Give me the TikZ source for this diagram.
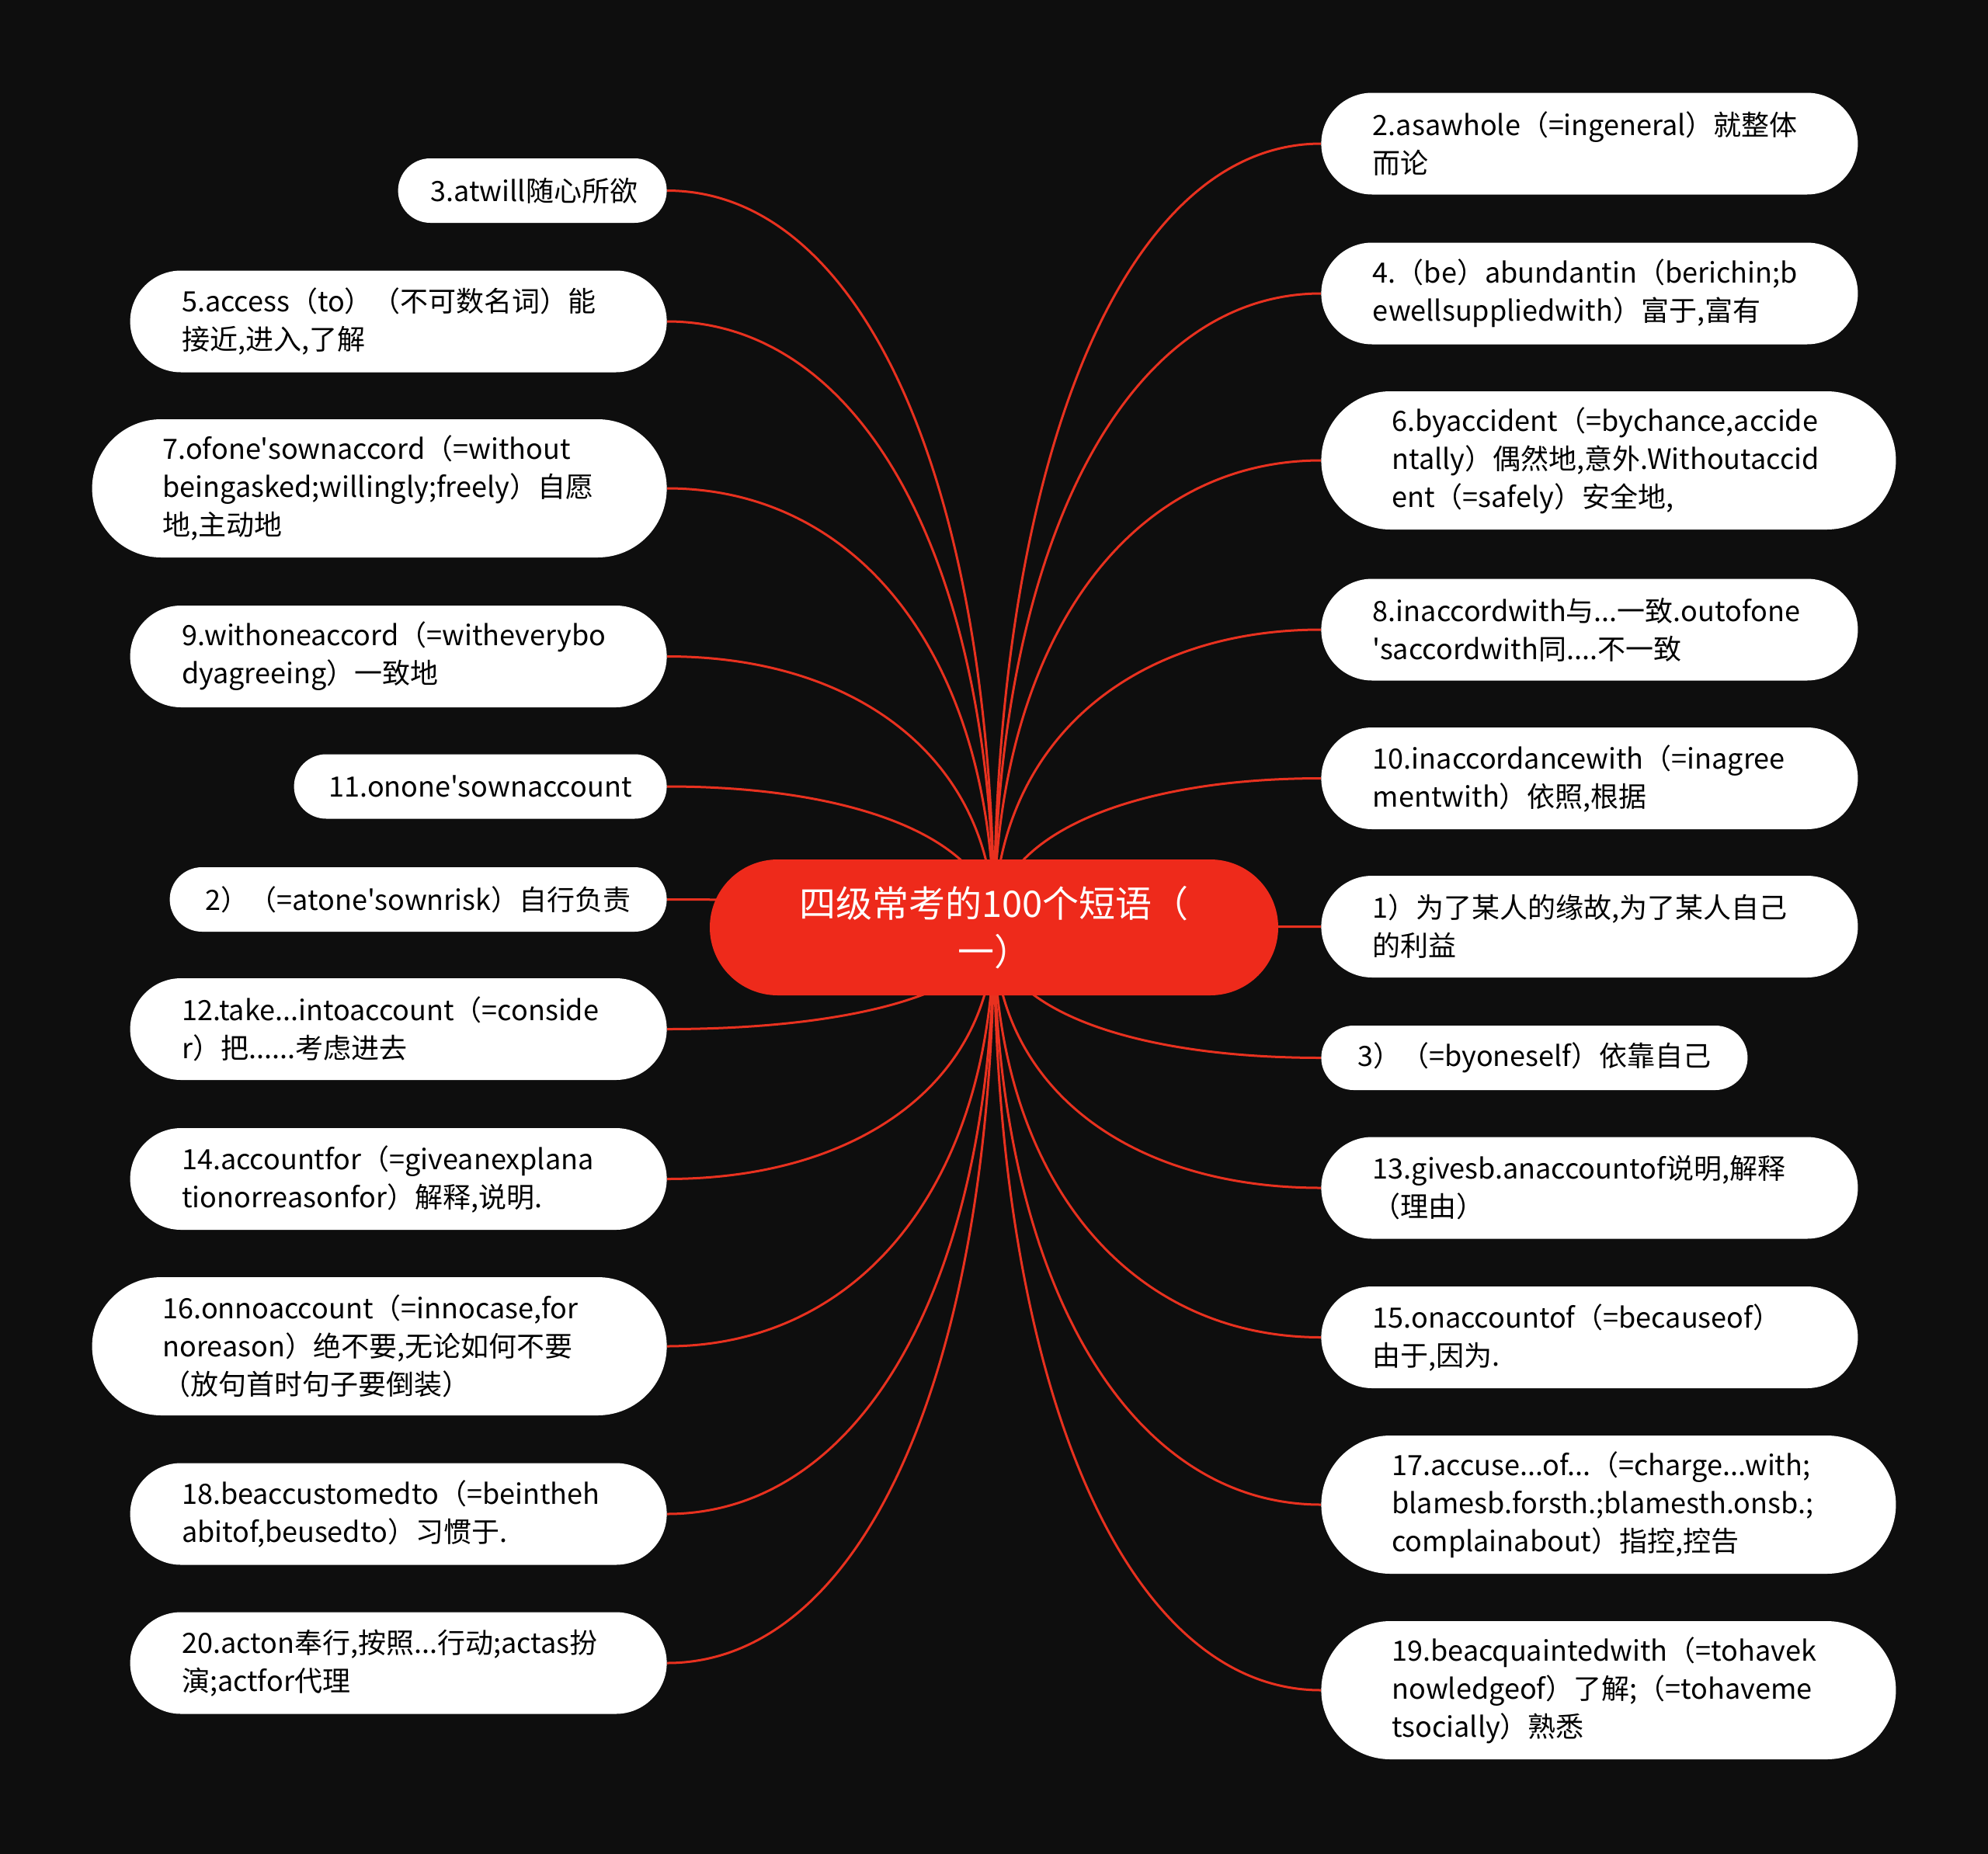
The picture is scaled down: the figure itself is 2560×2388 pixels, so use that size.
\documentclass[tikz,border=0pt]{standalone}
\usepackage{fontspec}
\setmainfont{Noto Sans CJK SC}[Ligatures=TeXOff]
\usetikzlibrary{calc}
\definecolor{bgDark}{HTML}{0E0E0E}
\definecolor{rootRed}{HTML}{EE2A1B}
\definecolor{linkRed}{HTML}{E8311F}
\pgfdeclarelayer{background}
\pgfsetlayers{background,main}
\newcommand{\leaffont}{\fontsize{18pt}{24.5pt}\selectfont}
\newcommand{\rootfont}{\fontsize{23.5pt}{31pt}\selectfont}
\tikzset{
  rootbox/.style    = {fill=rootRed, text=white, font=\rootfont, align=center,
                       text width=290pt, inner sep=0pt, minimum width=366pt,
                       minimum height=87.5pt, rounded corners=43.75pt},
  leaf/.style       = {fill=white, text=black, font=\leaffont, inner ysep=0pt},
  leafone/.style    = {leaf, align=center, text width=#1, inner xsep=21pt,
                       minimum height=41.5pt, rounded corners=20.75pt},
  leaftwo/.style    = {leaf, align=left, text width=279pt, inner xsep=33.25pt,
                       minimum height=65.5pt, rounded corners=32.75pt},
  leafthree/.style  = {leaf, align=left, text width=279pt, inner xsep=45.5pt,
                       minimum height=89pt, rounded corners=44.5pt},
  link/.style       = {linkRed, line width=1.5pt},
}

\begin{document}
\begin{tikzpicture}[x=0.5pt, y=-0.5pt]
\useasboundingbox (0,0) rectangle (2560,2388);

% ---- centre -----------------------------------------------------------
\node[rootbox] (root) at (1280,1194.5) {四级常考的100个短语（\\一）};

% ---- left column --------------------------------------------------------
\node[leafone=131pt, anchor=east] (l1) at (859,245.5) {3.atwill随心所欲};
\node[leaftwo, anchor=east] (l2) at (859,414)
  {5.access（to）（不可数名词）能\\接近,进入,了解};
\node[leafthree, anchor=east] (l3) at (859,629)
  {7.ofone'sownaccord（=without\\beingasked;willingly;freely）自愿\\地,主动地};
\node[leaftwo, anchor=east] (l4) at (859,845.5)
  {9.withoneaccord（=witheverybo\\dyagreeing）一致地};
\node[leafone=198pt, anchor=east] (l5) at (859,1013) {11.onone'sownaccount};
\node[leafone=278pt, anchor=east] (l6) at (859,1158.5) {2）（=atone'sownrisk）自行负责};
\node[leaftwo, anchor=east] (l7) at (859,1325.5)
  {12.take...intoaccount（=conside\\r）把......考虑进去};
\node[leaftwo, anchor=east] (l8) at (859,1518.5)
  {14.accountfor（=giveanexplana\\tionorreasonfor）解释,说明.};
\node[leafthree, anchor=east] (l9) at (859,1734)
  {16.onnoaccount（=innocase,for\\noreason）绝不要,无论如何不要\\（放句首时句子要倒装）};
\node[leaftwo, anchor=east] (l10) at (859,1950)
  {18.beaccustomedto（=beintheh\\abitof,beusedto）习惯于.};
\node[leaftwo, anchor=east] (l11) at (859,2142)
  {20.acton奉行,按照...行动;actas扮\\演;actfor代理};

% ---- right column -------------------------------------------------------
\node[leaftwo, anchor=west] (r1) at (1701,185)
  {2.asawhole（=ingeneral）就整体\\而论};
\node[leaftwo, anchor=west] (r2) at (1701,378)
  {4.（be）abundantin（berichin;b\\ewellsuppliedwith）富于,富有};
\node[leafthree, anchor=west] (r3) at (1701,593)
  {6.byaccident（=bychance,accide\\ntally）偶然地,意外.Withoutaccid\\ent（=safely）安全地,};
\node[leaftwo, anchor=west] (r4) at (1701,811)
  {8.inaccordwith与...一致.outofone\\'saccordwith同....不一致};
\node[leaftwo, anchor=west] (r5) at (1701,1002.5)
  {10.inaccordancewith（=inagree\\mentwith）依照,根据};
\node[leaftwo, anchor=west] (r6) at (1701,1193.5)
  {1）为了某人的缘故,为了某人自己\\的利益};
\node[leafone=232.5pt, anchor=west] (r7) at (1701,1362.5) {3）（=byoneself）依靠自己};
\node[leaftwo, anchor=west] (r8) at (1701,1530)
  {13.givesb.anaccountof说明,解释\\（理由）};
\node[leaftwo, anchor=west] (r9) at (1701,1722.5)
  {15.onaccountof（=becauseof）\\由于,因为.};
\node[leafthree, anchor=west] (r10) at (1701,1938)
  {17.accuse...of...（=charge...with;\\blamesb.forsth.;blamesth.onsb.;\\complainabout）指控,控告};
\node[leafthree, anchor=west] (r11) at (1701,2177)
  {19.beacquaintedwith（=tohavek\\nowledgeof）了解;（=tohaveme\\tsocially）熟悉};

% ---- links, behind the boxes ------------------------------------------
\begin{pgfonlayer}{background}
  \fill[bgDark] (0,0) rectangle (2560,2388);
  \foreach \i in {1,...,11} {
    \draw[link] (root.center)
      .. controls ($(root.center)!0.6!(root.center |- l\i.east)$)
         and ($(l\i.east)!0.6!(root.center |- l\i.east)$) .. (l\i.east);
    \draw[link] (root.center)
      .. controls ($(root.center)!0.6!(root.center |- r\i.west)$)
         and ($(r\i.west)!0.6!(root.center |- r\i.west)$) .. (r\i.west);
  }
\end{pgfonlayer}

\end{tikzpicture}
\end{document}
